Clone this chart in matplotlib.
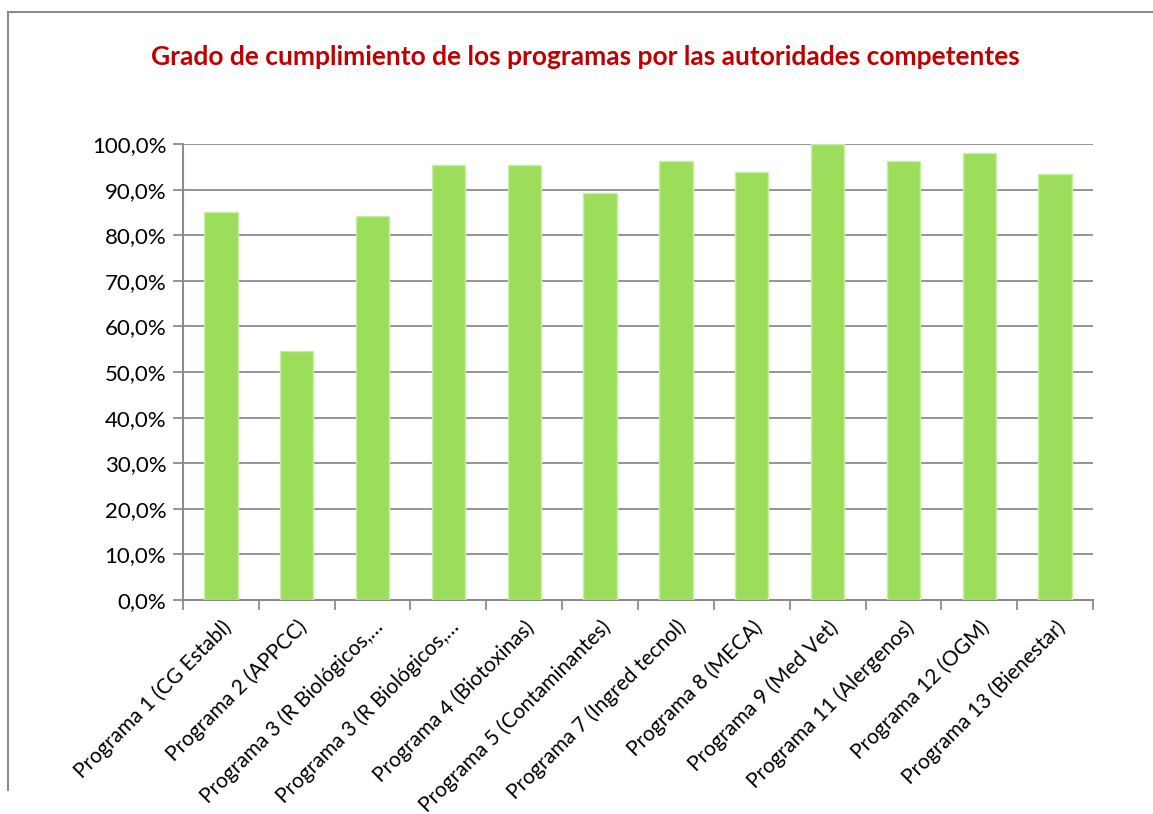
import matplotlib
matplotlib.use("Agg")
import matplotlib.pyplot as plt
from matplotlib.lines import Line2D
from matplotlib.ticker import FuncFormatter, MultipleLocator

categories = [
    "Programa 1 (CG Establ)",
    "Programa 2 (APPCC)",
    "Programa 3 (R Biológicos,…",
    "Programa 3 (R Biológicos,…",
    "Programa 4 (Biotoxinas)",
    "Programa 5 (Contaminantes)",
    "Programa 7 (Ingred tecnol)",
    "Programa 8 (MECA)",
    "Programa 9 (Med Vet)",
    "Programa 11 (Alergenos)",
    "Programa 12 (OGM)",
    "Programa 13 (Bienestar)",
]
values = [85.0, 54.5, 84.2, 95.5, 95.5, 89.2, 96.3, 93.8, 100.0, 96.3, 98.0, 93.4]
title = "Grado de cumplimiento de los programas por las autoridades competentes"

plt.rcParams['font.family'] = ['Lato', 'DejaVu Sans']

fig = plt.figure(figsize=(11.53, 8.14), dpi=100)
ax = fig.add_axes([0.1587, 0.2629, 0.7893, 0.5602])

x = list(range(len(categories)))
ax.bar(x, values, width=0.44, color='#9CDE5B', edgecolor='#C8EEA6', linewidth=1.0, zorder=3)

ax.set_xlim(-0.5, len(categories) - 0.5)
ax.set_ylim(0, 100)
ax.yaxis.set_major_locator(MultipleLocator(10))
ax.yaxis.set_major_formatter(FuncFormatter(lambda v, p: f"{v:.1f}%".replace('.', ',')))
ax.grid(axis='y', color='#8C8C8C', linewidth=1.3, zorder=0)
ax.set_axisbelow(True)

for s in ['top', 'right']:
    ax.spines[s].set_visible(False)
for s in ['left', 'bottom']:
    ax.spines[s].set_color('#8C8C8C')
    ax.spines[s].set_linewidth(1.5)

ax.tick_params(axis='y', length=7, width=1.3, color='#8C8C8C', labelsize=16, pad=5, labelcolor='black')
ax.set_xticks([i - 0.5 for i in range(len(categories) + 1)], minor=False)
ax.set_xticklabels([])
ax.tick_params(axis='x', which='major', length=7, width=1.3, color='#8C8C8C')
ax.set_xticks(x, minor=True)
ax.set_xticklabels(categories, minor=True, rotation=45, ha='right', rotation_mode='anchor', fontsize=15)
ax.tick_params(axis='x', which='minor', length=0, pad=12)

fig.text(0.5074, 0.930, title, ha='center', va='center', fontsize=19, fontweight='bold', color='#C00000')

# chart frame
fig.add_artist(Line2D([8/1153, 8/1153], [1 - 12/814, 1 - 790/814], transform=fig.transFigure, color='#8C8C8C', linewidth=1.5))
fig.add_artist(Line2D([8/1153, 1.0], [1 - 12/814, 1 - 12/814], transform=fig.transFigure, color='#8C8C8C', linewidth=1.5))

fig.savefig("out.png", dpi=100)
